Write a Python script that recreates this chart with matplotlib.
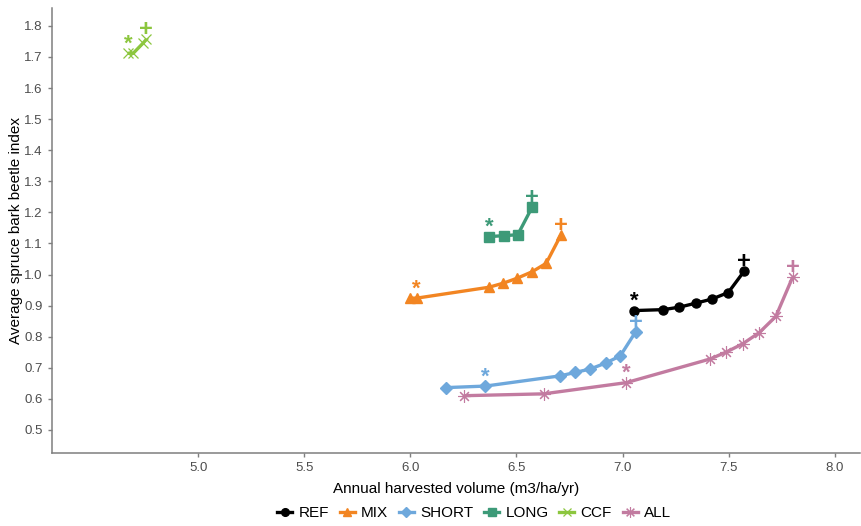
import matplotlib
matplotlib.use("Agg")
import matplotlib.pyplot as plt
from matplotlib.lines import Line2D

plt.rcParams["font.family"] = ["Liberation Sans", "DejaVu Sans"]

# harvest volume (m3/ha/yr) vs. bark beetle index, one curve per scenario set
scenarios = ["REF", "MIX", "SHORT", "LONG", "CCF", "ALL"]

ref_x = [7.056, 7.192, 7.268, 7.346, 7.421, 7.498, 7.572]
ref_y = [0.884, 0.887, 0.895, 0.908, 0.921, 0.942, 1.010]

mix_x = [6.000, 6.030, 6.370, 6.437, 6.503, 6.574, 6.640, 6.710]
mix_y = [0.924, 0.924, 0.959, 0.972, 0.988, 1.009, 1.036, 1.128]

short_x = [6.166, 6.354, 6.707, 6.777, 6.848, 6.920, 6.989, 7.061]
short_y = [0.636, 0.641, 0.674, 0.685, 0.696, 0.715, 0.738, 0.815]

long_x = [6.370, 6.440, 6.506, 6.574]
long_y = [1.122, 1.125, 1.128, 1.217]

ccf_x = [4.669, 4.694, 4.741, 4.756]
ccf_y = [1.712, 1.712, 1.745, 1.757]

all_x = [6.252, 6.628, 7.017, 7.412, 7.487, 7.566, 7.644, 7.722, 7.801]
all_y = [0.610, 0.616, 0.652, 0.728, 0.750, 0.777, 0.813, 0.865, 0.991]

# which point gets the "*" flag (the "+" always sits on the last point)
star_idx = [0, 1, 1, 0, 0, 2]

xs = [ref_x, mix_x, short_x, long_x, ccf_x, all_x]
ys = [ref_y, mix_y, short_y, long_y, ccf_y, all_y]

colors = ["#000000", "#F28522", "#6EA8DC", "#3D9A78", "#8CC63E", "#C27BA0"]
markers = ["o", "^", "D", "s", "x", (8, 2, 0)]
msizes = [6.5, 7, 6, 6.5, 6.5, 9]
mews = [1, 1, 1, 1, 0.9, 0.8]

fig = plt.figure(figsize=(8.62, 5.26), dpi=100)
ax = fig.add_axes([0.060, 0.139, 0.938, 0.846])

for x, y, c, m, ms, mw, si in zip(xs, ys, colors, markers, msizes, mews, star_idx):
    ax.plot(x, y, color=c, lw=2.4, marker=m, ms=ms, mew=mw, solid_capstyle="butt")
    ax.annotate("*", (x[si], y[si]), xytext=(0, 6.5), textcoords="offset points",
                ha="center", va="center", fontsize=16, fontweight="bold", color=c)
    ax.annotate("+", (x[-1], y[-1]), xytext=(0, 7), textcoords="offset points",
                ha="center", va="center", fontsize=17, fontweight="bold", color=c)

ax.set_xlim(4.31, 8.12)
ax.set_ylim(0.426, 1.858)
ax.set_xticks([5.0, 5.5, 6.0, 6.5, 7.0, 7.5, 8.0])
ax.set_yticks([0.5, 0.6, 0.7, 0.8, 0.9, 1.0, 1.1, 1.2, 1.3, 1.4, 1.5, 1.6, 1.7, 1.8])
ax.xaxis.set_major_formatter(matplotlib.ticker.FormatStrFormatter("%.1f"))
ax.yaxis.set_major_formatter(matplotlib.ticker.FormatStrFormatter("%.1f"))

for side in ("top", "right"):
    ax.spines[side].set_visible(False)
for side in ("left", "bottom"):
    ax.spines[side].set_color("#7f7f7f")
    ax.spines[side].set_linewidth(1.1)
ax.tick_params(colors="#7f7f7f", labelcolor="#4d4d4d", labelsize=9.5, length=3, width=1)

ax.set_xlabel("Annual harvested volume (m3/ha/yr)", fontsize=11, labelpad=6)
ax.set_ylabel("Average spruce bark beetle index", fontsize=11, labelpad=1)

handles = [Line2D([], [], color=c, lw=2.4, marker=m, ms=ms * 0.85, mew=mw)
           for c, m, ms, mw in zip(colors, markers, msizes, mews)]
fig.legend(handles, scenarios, loc="center", bbox_to_anchor=(0.55, 0.025), ncol=6,
           frameon=False, fontsize=11, handlelength=1.0, handletextpad=0.4,
           columnspacing=0.7)

fig.savefig("out.png", dpi=100)
